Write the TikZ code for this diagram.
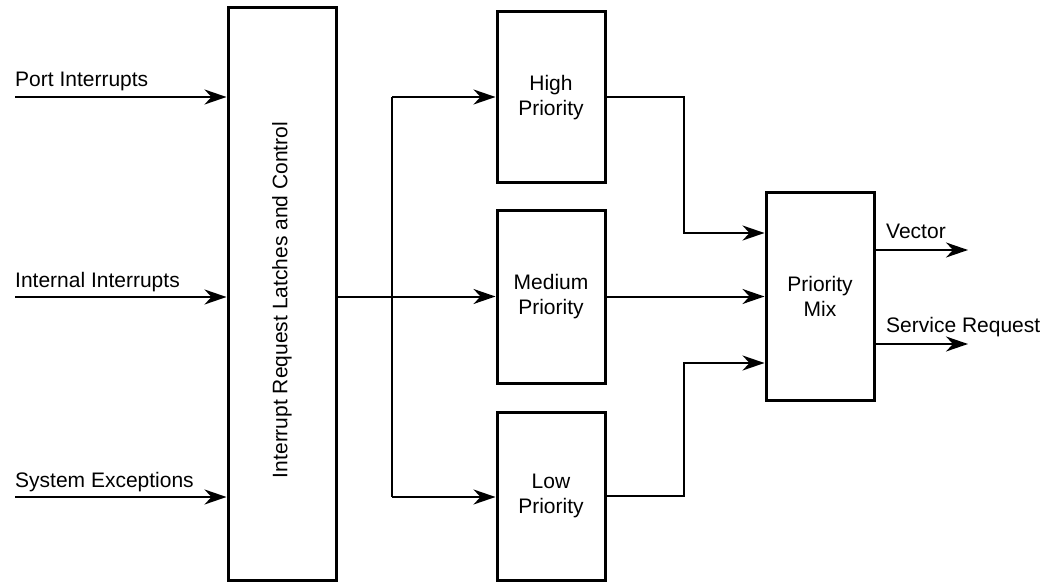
\documentclass[tikz,border=0pt]{standalone}
\usepackage{fontspec}
\setmainfont{Liberation Sans}
\usetikzlibrary{arrows.meta}
\begin{document}
\begin{tikzpicture}[x=1pt,y=-1pt,
  blk/.style={draw=black,line width=3pt,inner sep=0pt,align=center,font=\fontsize{21}{25.5}\selectfont},
  conn/.style={line width=2pt,draw=black},
  arr/.style={conn,-{Stealth[length=22pt,width=15pt,inset=7pt]}},
  lbl/.style={font=\fontsize{21}{25}\selectfont,inner sep=0pt,anchor=base west}]
\useasboundingbox (0,0) rectangle (1050,583);
\node[blk,minimum width=108pt,minimum height=572pt] (big) at (282,294) {};
\node[rotate=90,font=\fontsize{21}{25}\selectfont] (bigt) at (282,300) {Interrupt Request Latches and Control};
\node[blk,minimum width=108pt,minimum height=171pt] (high) at (551,97.5) {High\\Priority};
\node[blk,minimum width=108pt,minimum height=173pt] (med) at (551,296.5) {Medium\\Priority};
\node[blk,minimum width=108pt,minimum height=168pt] (low) at (551,496) {Low\\Priority};
\node[blk,minimum width=108pt,minimum height=207pt] (mix) at (820,296.5) {Priority\\Mix};
% inputs
\coordinate (p1) at (15,97);
\coordinate (p2) at (15,297);
\coordinate (p3) at (15,497);
\draw[arr] (p1) -- (big.west |- p1);
\draw[arr] (p2) -- (big.west |- p2);
\draw[arr] (p3) -- (big.west |- p3);
\node[lbl] (l1) at (15,87) {Port Interrupts};
\node[lbl] (l2) at (15,287) {Internal Interrupts};
\node[lbl] (l3) at (15,487) {System Exceptions};
% distribution
\coordinate (bt) at (392,97);
\coordinate (bb) at (392,497);
\draw[arr] (big.east |- med.west) -- (med.west);
\draw[conn] (bt) -- (bb);
\draw[arr] (bt) -- (high.west |- bt);
\draw[arr] (bb) -- (low.west |- bb);
% to mix
\coordinate (hm) at (684,233);
\coordinate (lm) at (684,363);
\draw[arr] (high.east) -| (hm) -- (mix.west |- hm);
\draw[arr] (med.east) -- (mix.west |- med.east);
\draw[arr] (low.east) -| (lm) -- (mix.west |- lm);
% outputs
\coordinate (o1) at (968,250);
\coordinate (o2) at (968,344);
\draw[arr] (mix.east |- o1) -- (o1);
\draw[arr] (mix.east |- o2) -- (o2);
\node[lbl] (v) at (886,238) {Vector};
\node[lbl] (s) at (886,332) {Service Request};
\end{tikzpicture}
\end{document}
